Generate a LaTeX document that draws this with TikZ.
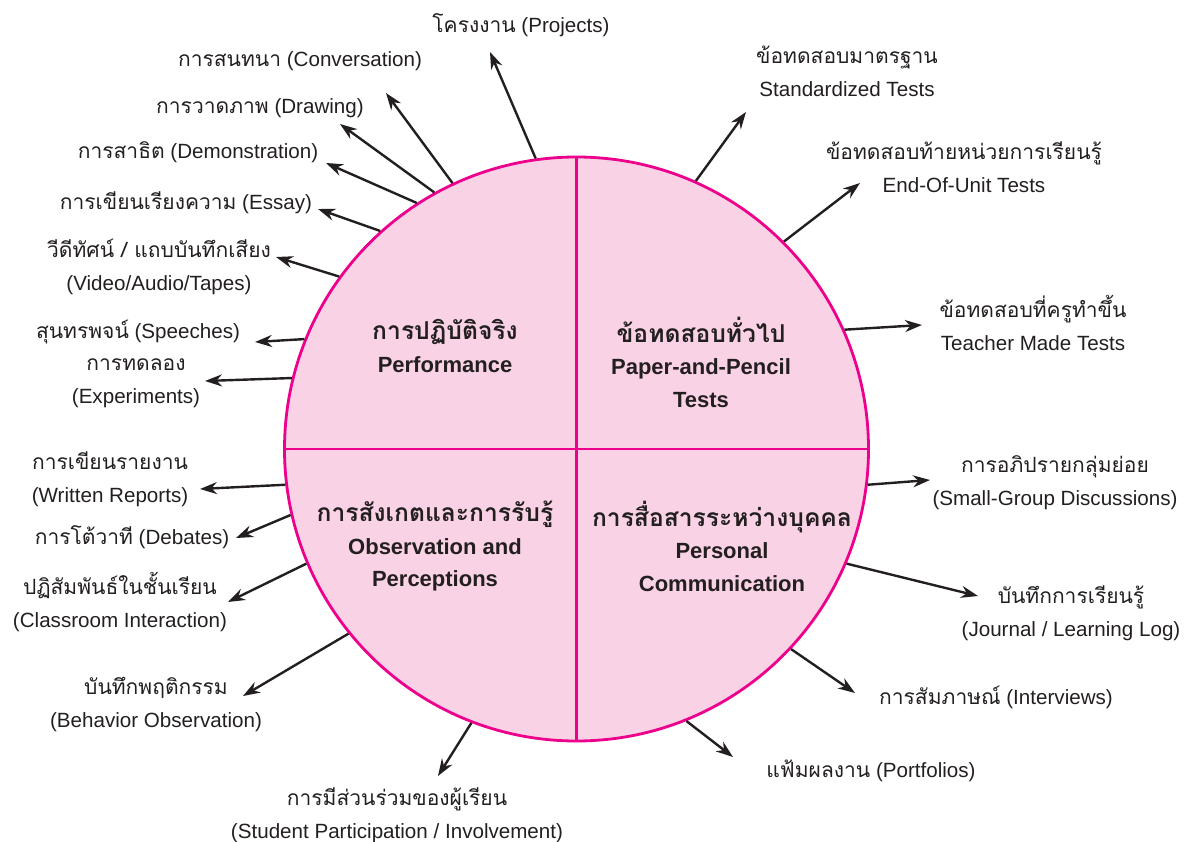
\documentclass[tikz,border=0pt]{standalone}
\usepackage{fontspec}
\setmainfont{Liberation Sans}
\newfontfamily\thai[Script=Thai,Scale=1.02]{Loma}
\newfontfamily\thaiq[Script=Thai,Scale=1.12]{Loma}
\newcommand\tf[1]{{\thai #1}}
\newcommand\tq[1]{{\thaiq\bfseries #1}}
\usetikzlibrary{arrows.meta}
\definecolor{pinkfill}{HTML}{F9D3E5}
\definecolor{magentaline}{HTML}{EC008C}
\definecolor{ink}{HTML}{231F20}
\tikzset{
  lbl/.style={align=center, inner sep=0pt, text=ink, font=\fontsize{20.6}{33}\selectfont},
  qlbl/.style={align=center, inner sep=0pt, text=ink, font=\fontsize{22}{32.5}\selectfont\bfseries},
  arr/.style={draw=ink, line width=2.4pt, -{Stealth[length=17pt,width=12pt]}},
  divline/.style={draw=magentaline, line width=2.2pt}
}
\begin{document}
\begin{tikzpicture}[x=1pt,y=-1pt]
\useasboundingbox (0,0) rectangle (1193,842);
\node[circle, minimum size=584pt, inner sep=0pt, fill=pinkfill, draw=magentaline, line width=2.8pt] (c) at (576.5,449) {};
\draw[divline] (c.north) -- (c.south);
\draw[divline] (c.west) -- (c.east);

% quadrant labels
\node[qlbl] (q1) at (445,346) {\tq{การปฏิบัติจริง}\\Performance};
\node[qlbl] (q2) at (701,362) {\tq{ข้อทดสอบทั่วไป}\\Paper-and-Pencil\\Tests};
\node[qlbl] (q3) at (435,546) {\tq{การสังเกตและการรับรู้}\\Observation and\\Perceptions};
\node[qlbl] (q4) at (722,546) {\tq{การสื่อสารระหว่างบุคคล}\\Personal\\Communication};

% outer labels
\node[lbl] (l1) at (521,25) {\tf{โครงงาน} (Projects)};
\node[lbl] (l2) at (300,61) {\tf{การสนทนา} (Conversation)};
\node[lbl] (l3) at (260,108) {\tf{การวาดภาพ} (Drawing)};
\node[lbl] (l4) at (198,152) {\tf{การสาธิต} (Demonstration)};
\node[lbl] (l5) at (186,203) {\tf{การเขียนเรียงความ} (Essay)};
\node[lbl] (l6) at (159,267) {\tf{วีดีทัศน์ / แถบบันทึกเสียง}\\(Video/Audio/Tapes)};
\node[lbl] (l7) at (138,332) {\tf{สุนทรพจน์} (Speeches)};
\node[lbl] (l8) at (136,383) {\tf{การทดลอง}\\(Experiments)};
\node[lbl] (l9) at (110,479) {\tf{การเขียนรายงาน}\\(Written Reports)};
\node[lbl] (l10) at (132,537) {\tf{การโต้วาที} (Debates)};
\node[lbl] (l11) at (120,602) {\tf{ปฏิสัมพันธ์ในชั้นเรียน}\\(Classroom Interaction)};
\node[lbl] (l12) at (156,705) {\tf{บันทึกพฤติกรรม}\\(Behavior Observation)};
\node[lbl] (l13) at (397,815) {\tf{การมีส่วนร่วมของผู้เรียน}\\(Student Participation / Involvement)};
\node[lbl] (l14) at (871,771) {\tf{แฟ้มผลงาน} (Portfolios)};
\node[lbl] (l15) at (996,697) {\tf{การสัมภาษณ์} (Interviews)};
\node[lbl] (l16) at (1071,613) {\tf{บันทึกการเรียนรู้}\\(Journal / Learning Log)};
\node[lbl] (l17) at (1055,483) {\tf{การอภิปรายกลุ่มย่อย}\\(Small-Group Discussions)};
\node[lbl] (l18) at (1033,323) {\tf{ข้อทดสอบที่ครูทำขึ้น}\\Teacher Made Tests};
\node[lbl] (l19) at (964,167) {\tf{ข้อทดสอบท้ายหน่วยการเรียนรู้}\\End-Of-Unit Tests};
\node[lbl] (l20) at (847,71) {\tf{ข้อทดสอบมาตรฐาน}\\Standardized Tests};

% arrow tips
\coordinate (t1) at (490,52);
\coordinate (t2) at (386,93);
\coordinate (t3) at (340,124);
\coordinate (t4) at (326,163);
\coordinate (t5) at (318,209);
\coordinate (t6) at (276,257);
\coordinate (t7) at (255,342);
\coordinate (t8) at (205,381);
\coordinate (t9) at (200,489);
\coordinate (t10) at (236,538);
\coordinate (t11) at (228,602);
\coordinate (t12) at (243,696);
\coordinate (t13) at (438,776);
\coordinate (t14) at (733,757);
\coordinate (t15) at (855,693);
\coordinate (t16) at (978,596);
\coordinate (t17) at (930,480);
\coordinate (t18) at (922,325);
\coordinate (t19) at (860,183);
\coordinate (t20) at (746,112);

\draw[arr] (c.98.2) -- (t1);
\draw[arr] (c.115.4) -- (t2);
\draw[arr] (c.119.9) -- (t3);
\draw[arr] (c.123.6) -- (t4);
\draw[arr] (c.132.3) -- (t5);
\draw[arr] (c.144.7) -- (t6);
\draw[arr] (c.158.5) -- (t7);
\draw[arr] (c.166.5) -- (t8);
\draw[arr] (c.187.9) -- (t9);
\draw[arr] (c.193.9) -- (t10);
\draw[arr] (c.203.8) -- (t11);
\draw[arr] (c.219.1) -- (t12);
\draw[arr] (c.249.9) -- (t13);
\draw[arr] (c.292.9) -- (t14);
\draw[arr] (c.317.8) -- (t15);
\draw[arr] (c.337.4) -- (t16);
\draw[arr] (c.353.7) -- (t17);
\draw[arr] (c.24.5) -- (t18);
\draw[arr] (c.45.5) -- (t19);
\draw[arr] (c.66.9) -- (t20);
\end{tikzpicture}
\end{document}
